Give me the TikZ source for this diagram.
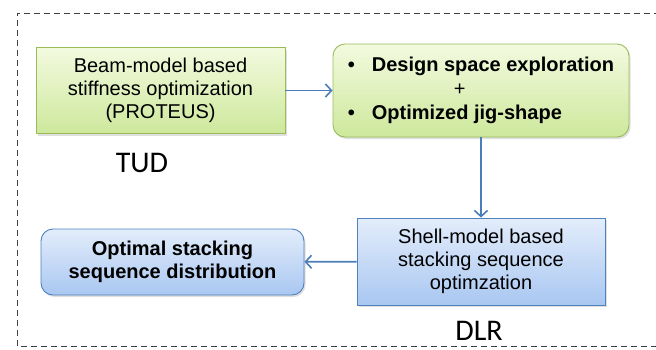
\documentclass[tikz,border=0pt]{standalone}
\usepackage{fontspec}
\setmainfont{Liberation Sans}
\newfontfamily\labelfont{Carlito}
\usepackage{xcolor}
\usepackage{tikz}
\usetikzlibrary{positioning, shadows, arrows.meta}

\definecolor{greenedge}{HTML}{9BBB59}
\definecolor{greentop}{HTML}{F3FADF}
\definecolor{greenbot}{HTML}{CDE89C}
\definecolor{blueedge}{HTML}{4F81BD}
\definecolor{bluetop}{HTML}{E3EDFB}
\definecolor{bluebot}{HTML}{A9C7F1}
\definecolor{arrowblue}{HTML}{4A7EBB}

\begin{document}
\begin{tikzpicture}[x=1pt,y=-1pt]
						\tikzstyle{box}=[rectangle,draw,line width=0.9pt,align=center,inner sep=0pt,
							font=\fontsize{20}{23}\selectfont,drop shadow={opacity=0.25,shadow xshift=1.5pt,shadow yshift=-2pt}]
						\tikzstyle{greenbox}=[box,draw=greenedge,top color=greentop,bottom color=greenbot]
						\tikzstyle{bluebox}=[box,draw=blueedge,top color=bluetop,bottom color=bluebot]
						\tikzstyle{tag}=[font=\labelfont\fontsize{30}{30}\selectfont]
						\tikzstyle{link}=[arrowblue,line width=1.6pt,-{Straight Barb[length=6pt,width=13pt,line width=1.6pt]}]
						\useasboundingbox (0,0) rectangle (656,349);
						\draw[black!75,line width=0.9pt,dash pattern=on 6pt off 4pt](660,13) -- (17,13) -- (17,346) -- (660,346);
						\node[greenbox,minimum width=249pt,minimum height=86pt](b1) at (160.5,90.5) {Beam-model based\\stiffness optimization\\(PROTEUS)};
						\node[greenbox,rounded corners=12pt,minimum width=296pt,minimum height=93pt,align=left,font=\fontsize{20}{24}\selectfont\bfseries](b2) at (481,90.5)
							{\makebox[24pt][l]{\textbullet}Design space exploration\\\hspace*{106pt}{\mdseries+}\\\makebox[24pt][l]{\textbullet}Optimized jig-shape};
						\node[bluebox,minimum width=248pt,minimum height=87pt](b3) at (481,261.5) {Shell-model based\\stacking sequence\\optimzation};
						\node[bluebox,rounded corners=12pt,minimum width=263pt,minimum height=66pt,font=\fontsize{20}{23}\selectfont\bfseries](b4) at (172.5,262) {Optimal stacking\\sequence distribution};
						\node[tag](tud) at (142,163) {TUD};
						\node[tag](dlr) at (479,331) {DLR};
						\draw[link](b1) -- (b2);
						\draw[link](b2) -- (b3);
						\draw[link](b3) -- (b4);
					\end{tikzpicture}
\end{document}
